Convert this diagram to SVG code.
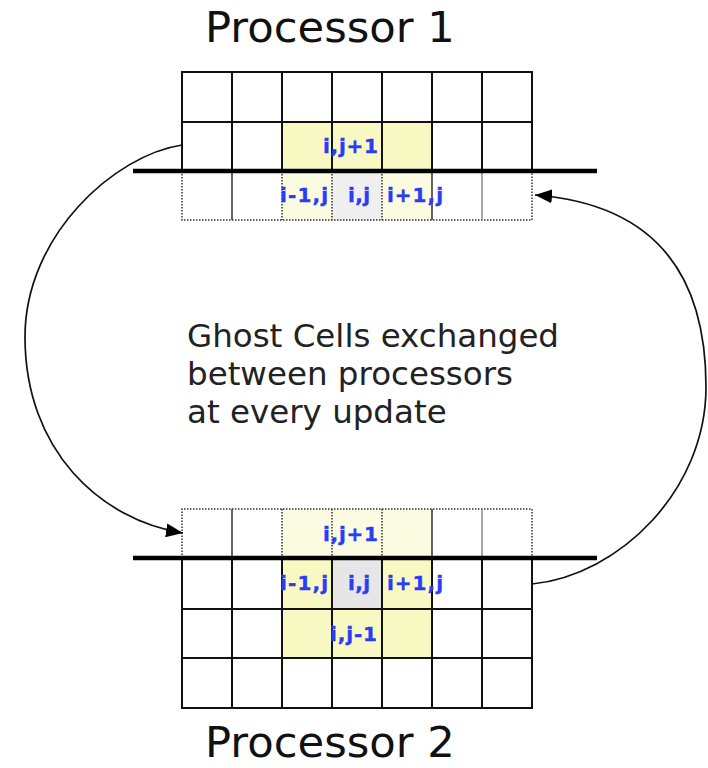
<svg xmlns="http://www.w3.org/2000/svg" width="708" height="768" viewBox="0 0 708 768">
<defs>
<style>
.title{font-family:"DejaVu Sans","Liberation Sans",sans-serif;font-size:43.3px;fill:#111}
.note{font-family:"DejaVu Sans","Liberation Sans",sans-serif;font-size:32.5px;fill:#222}
.lbl{font-family:"DejaVu Sans","Liberation Sans",sans-serif;font-size:20px;font-weight:bold;fill:#2a3cf5;stroke:#2a3cf5;stroke-width:0.4}
.grid{stroke:#111;stroke-width:2;fill:none}
.dot{stroke:#333;stroke-width:1.5;stroke-dasharray:1.5 1.5;fill:none}
.inner{stroke:#333;stroke-width:1.5}
.innerg{stroke:#888;stroke-width:1.5}
.heavy{stroke:#000;stroke-width:4.5}
.yel{fill:#f8f8c2}
.pale{fill:#fbfbe2}
.gray{fill:#e6e6e6}
.pgray{fill:#efefef}
.conn{fill:none;stroke:#111;stroke-width:1.7}
</style>
<marker id="arrow" markerUnits="userSpaceOnUse" markerWidth="18" markerHeight="14" refX="17" refY="7" orient="auto">
<path d="M0,0 L17,7 L0,14 z" fill="#000"/>
</marker>
</defs>
<rect width="708" height="768" fill="#fff"/>

<g id="processor1">
<text class="title" x="205" y="42">Processor 1</text>
<rect class="yel" x="282" y="122" width="150" height="49"/>
<rect class="pale" x="282" y="171" width="50" height="49"/>
<rect class="pgray" x="332" y="171" width="50" height="49"/>
<rect class="pale" x="382" y="171" width="50" height="49"/>
<rect class="grid" x="182" y="72" width="350" height="99"/>
<path class="grid" d="M182,122H532M232,72V171M282,72V171M332,72V171M382,72V171M432,72V171M482,72V171"/>
<path class="dot" d="M182,171V220H532V171M282,171V220M332,171V220M382,171V220"/>
<path class="inner" d="M232,171V220M432,171V220"/>
<path class="innerg" d="M482,171V220"/>
<line class="heavy" x1="133" y1="171" x2="597" y2="171"/>
<text class="lbl" x="323" y="153" textLength="55" lengthAdjust="spacing">i,j+1</text>
<text class="lbl" x="280" y="202" textLength="48" lengthAdjust="spacing">i-1,j</text>
<text class="lbl" x="348" y="202" textLength="22" lengthAdjust="spacing">i,j</text>
<text class="lbl" x="387" y="202" textLength="56" lengthAdjust="spacing">i+1,j</text>
</g>

<g id="note">
<text class="note" x="187" y="347">Ghost Cells exchanged</text>
<text class="note" x="187" y="385">between processors</text>
<text class="note" x="187" y="423">at every update</text>
</g>

<g id="processor2">
<rect class="pale" x="282" y="509" width="150" height="49"/>
<rect class="yel" x="282" y="558" width="50" height="51"/>
<rect class="gray" x="332" y="558" width="50" height="51"/>
<rect class="yel" x="382" y="558" width="50" height="51"/>
<rect class="yel" x="282" y="609" width="150" height="49"/>
<path class="dot" d="M182,558V509H532V558M282,509V558M332,509V558M382,509V558"/>
<path class="inner" d="M232,509V558M432,509V558"/>
<path class="innerg" d="M482,509V558"/>
<rect class="grid" x="182" y="558" width="350" height="150"/>
<path class="grid" d="M182,609H532M182,658H532M232,558V708M282,558V708M332,558V708M382,558V708M432,558V708M482,558V708"/>
<line class="heavy" x1="133" y1="558" x2="597" y2="558"/>
<text class="lbl" x="323" y="541" textLength="55" lengthAdjust="spacing">i,j+1</text>
<text class="lbl" x="280" y="590" textLength="48" lengthAdjust="spacing">i-1,j</text>
<text class="lbl" x="348" y="590" textLength="22" lengthAdjust="spacing">i,j</text>
<text class="lbl" x="387" y="590" textLength="56" lengthAdjust="spacing">i+1,j</text>
<text class="lbl" x="330" y="641" textLength="47" lengthAdjust="spacing">i,j-1</text>
<text class="title" x="205" y="757">Processor 2</text>
</g>

<g id="connectors">
<path class="conn" d="M182,145 C115,155 25,235 25,337 C25,450 100,520 183,533" marker-end="url(#arrow)"/>
<path class="conn" d="M532,584 C620,575 706,490 706,387 C706,285 665,205 535,195" marker-end="url(#arrow)"/>
</g>
</svg>
